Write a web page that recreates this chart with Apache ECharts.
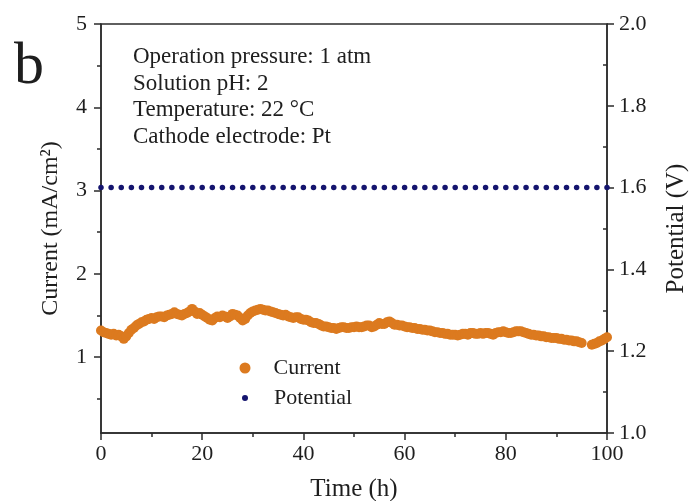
<!DOCTYPE html>
<html><head><meta charset="utf-8">
<script src="https://cdn.jsdelivr.net/npm/echarts@6/dist/echarts.min.js"></script>
<style>html,body{margin:0;padding:0;background:#fff}#c{width:691px;height:501px}</style>
</head><body><div id="c"></div>
<script>
// ---- data ----
const currentHours = [0,0.5,1,1.5,2,2.5,3,3.5,4,4.5,5,5.5,6,6.5,7,7.5,8,8.5,9,9.5,10,10.5,11,11.5,12,12.5,13,13.5,14,14.5,15,15.5,16,16.5,17,17.5,18,18.5,19,19.5,20,20.5,21,21.5,22,22.5,23,23.5,24,24.5,25,25.5,26,26.5,27,27.5,28,28.5,29,29.5,30,30.5,31,31.5,32,32.5,33,33.5,34,34.5,35,35.5,36,36.5,37,37.5,38,38.5,39,39.5,40,40.5,41,41.5,42,42.5,43,43.5,44,44.5,45,45.5,46,46.5,47,47.5,48,48.5,49,49.5,50,50.5,51,51.5,52,52.5,53,53.5,54,54.5,55,55.5,56,56.5,57,57.5,58,58.5,59,59.5,60,60.5,61,61.5,62,62.5,63,63.5,64,64.5,65,65.5,66,66.5,67,67.5,68,68.5,69,69.5,70,70.5,71,71.5,72,72.5,73,73.5,74,74.5,75,75.5,76,76.5,77,77.5,78,78.5,79,79.5,80,80.5,81,81.5,82,82.5,83,83.5,84,84.5,85,85.5,86,86.5,87,87.5,88,88.5,89,89.5,90,90.5,91,91.5,92,92.5,93,93.5,94,94.5,95,97,97.5,98,98.5,99,99.5,100];
const currentValues = [1.32,1.30,1.29,1.28,1.27,1.28,1.26,1.27,1.25,1.22,1.25,1.29,1.33,1.35,1.38,1.40,1.42,1.43,1.45,1.46,1.47,1.46,1.48,1.49,1.49,1.48,1.50,1.51,1.52,1.54,1.52,1.51,1.50,1.52,1.53,1.55,1.58,1.55,1.52,1.53,1.51,1.49,1.47,1.45,1.44,1.47,1.49,1.48,1.50,1.49,1.47,1.49,1.52,1.51,1.50,1.47,1.44,1.46,1.50,1.53,1.55,1.56,1.57,1.58,1.57,1.56,1.56,1.55,1.54,1.53,1.52,1.51,1.50,1.51,1.49,1.48,1.47,1.48,1.48,1.46,1.45,1.45,1.44,1.42,1.41,1.41,1.40,1.38,1.37,1.37,1.36,1.35,1.35,1.34,1.35,1.36,1.36,1.35,1.35,1.36,1.36,1.37,1.36,1.36,1.37,1.38,1.38,1.36,1.37,1.39,1.41,1.40,1.40,1.42,1.43,1.41,1.39,1.39,1.38,1.38,1.37,1.36,1.36,1.35,1.35,1.34,1.34,1.33,1.33,1.32,1.32,1.31,1.30,1.30,1.29,1.29,1.28,1.28,1.27,1.27,1.27,1.26,1.27,1.28,1.28,1.27,1.29,1.29,1.28,1.28,1.29,1.28,1.29,1.29,1.28,1.27,1.29,1.30,1.30,1.31,1.30,1.29,1.29,1.30,1.31,1.31,1.31,1.30,1.29,1.28,1.27,1.27,1.26,1.26,1.25,1.25,1.24,1.24,1.23,1.23,1.23,1.22,1.22,1.21,1.21,1.20,1.20,1.19,1.19,1.18,1.17,1.15,1.16,1.17,1.19,1.20,1.22,1.24];
const potentialHours = [0,2,4,6,8,10,12,14,16,18,20,22,24,26,28,30,32,34,36,38,40,42,44,46,48,50,52,54,56,58,60,62,64,66,68,70,72,74,76,78,80,82,84,86,88,90,92,94,96,98,100];
const potentialValues = [1.6,1.6,1.6,1.6,1.6,1.6,1.6,1.6,1.6,1.6,1.6,1.6,1.6,1.6,1.6,1.6,1.6,1.6,1.6,1.6,1.6,1.6,1.6,1.6,1.6,1.6,1.6,1.6,1.6,1.6,1.6,1.6,1.6,1.6,1.6,1.6,1.6,1.6,1.6,1.6,1.6,1.6,1.6,1.6,1.6,1.6,1.6,1.6,1.6,1.6,1.6];
const leftTicks = [1,2,3,4,5];
const leftMinorTicks = [0.5,1.5,2.5,3.5,4.5];
const rightMinorTicks = [1.1,1.3,1.5,1.7,1.9];
const notes = ['Operation pressure: 1 atm','Solution pH: 2','Temperature: 22 \u00B0C','Cathode electrode: Pt'];

// ---- chart ----
const FONT = '"Liberation Serif","Times New Roman",serif';
const AX = '#2b2b2b';
const TXT = '#1e1e1e';
const chart = echarts.init(document.getElementById('c'), null, {renderer:'canvas'});
const zip = (a,b) => a.map((v,i)=>[v,b[i]]);
const noteY = [57, 83.5, 110, 136.5];

chart.setOption({
  animation:false,
  backgroundColor:'#fff',
  grid:{left:101,right:84,top:24,bottom:68,show:true,borderColor:AX,borderWidth:1.5,backgroundColor:'transparent',outerBoundsMode:'none',containLabel:false},
  xAxis:[{
    type:'value',min:0,max:100,interval:20,
    name:'Time (h)',nameLocation:'middle',nameGap:44,
    nameTextStyle:{fontFamily:FONT,fontSize:25,color:TXT},
    axisLine:{show:true,lineStyle:{color:AX,width:1.5}},
    axisTick:{show:true,length:7,lineStyle:{color:AX,width:1.5}},
    minorTick:{show:true,splitNumber:2,length:4,lineStyle:{color:AX,width:1.5}},
    axisLabel:{fontFamily:FONT,fontSize:22,color:TXT,margin:10},
    splitLine:{show:false}
  }],
  yAxis:[{
    type:'value',position:'left',min:0.09,max:5,
    name:'Current (mA/cm\u00B2)',nameLocation:'middle',nameRotate:90,nameGap:38,
    nameTextStyle:{fontFamily:FONT,fontSize:24,color:TXT},
    axisLine:{show:true,lineStyle:{color:AX,width:1.5}},
    axisTick:{show:true,length:7,customValues:leftTicks,lineStyle:{color:AX,width:1.5}},
    axisLabel:{fontFamily:FONT,fontSize:22,color:TXT,margin:14,customValues:leftTicks},
    splitLine:{show:false}
  },{
    type:'value',position:'right',min:1.0,max:2.0,interval:0.2,
    name:'Potential (V)',nameLocation:'middle',nameRotate:90,nameGap:57,
    nameTextStyle:{fontFamily:FONT,fontSize:25,color:TXT},
    axisLine:{show:true,lineStyle:{color:AX,width:1.5}},
    axisTick:{show:true,length:7,lineStyle:{color:AX,width:1.5}},
    axisLabel:{fontFamily:FONT,fontSize:22,color:TXT,margin:12,formatter:v=>v.toFixed(1)},
    splitLine:{show:false}
  },{
    type:'value',position:'left',min:0.09,max:5,
    axisLine:{show:false},
    axisTick:{show:true,length:4,customValues:leftMinorTicks,lineStyle:{color:AX,width:1.5}},
    axisLabel:{show:false},splitLine:{show:false}
  },{
    type:'value',position:'right',min:1.0,max:2.0,
    axisLine:{show:false},
    axisTick:{show:true,inside:true,length:4,customValues:rightMinorTicks,lineStyle:{color:AX,width:1.5}},
    axisLabel:{show:false},splitLine:{show:false}
  }],
  legend:[{
    data:['Current'],left:239.5,top:357,padding:0,icon:'circle',itemWidth:11,itemHeight:11,
    textStyle:{fontFamily:FONT,fontSize:22,color:TXT,padding:[0,0,0,18]},selectedMode:false
  },{
    data:['Potential'],left:242,top:387,padding:0,icon:'circle',itemWidth:6,itemHeight:6,
    textStyle:{fontFamily:FONT,fontSize:22,color:TXT,padding:[0,0,0,21]},selectedMode:false
  }],
  graphic:[
    {type:'text',left:14,top:37,style:{text:'b',font:'60px '+FONT,fill:TXT}}
  ].concat(notes.map((t,i)=>({type:'text',x:133,y:noteY[i],style:{text:t,font:'23px '+FONT,fill:TXT,verticalAlign:'middle'}}))),
  series:[{
    name:'Current',type:'scatter',xAxisIndex:0,yAxisIndex:0,
    data:zip(currentHours,currentValues),symbol:'circle',symbolSize:10,
    itemStyle:{color:'#DC7A1F',opacity:1}
  },{
    name:'Potential',type:'scatter',xAxisIndex:0,yAxisIndex:1,
    data:zip(potentialHours,potentialValues),symbol:'circle',symbolSize:5.5,
    itemStyle:{color:'#14146E',opacity:1}
  }]
});
</script>
</body></html>
